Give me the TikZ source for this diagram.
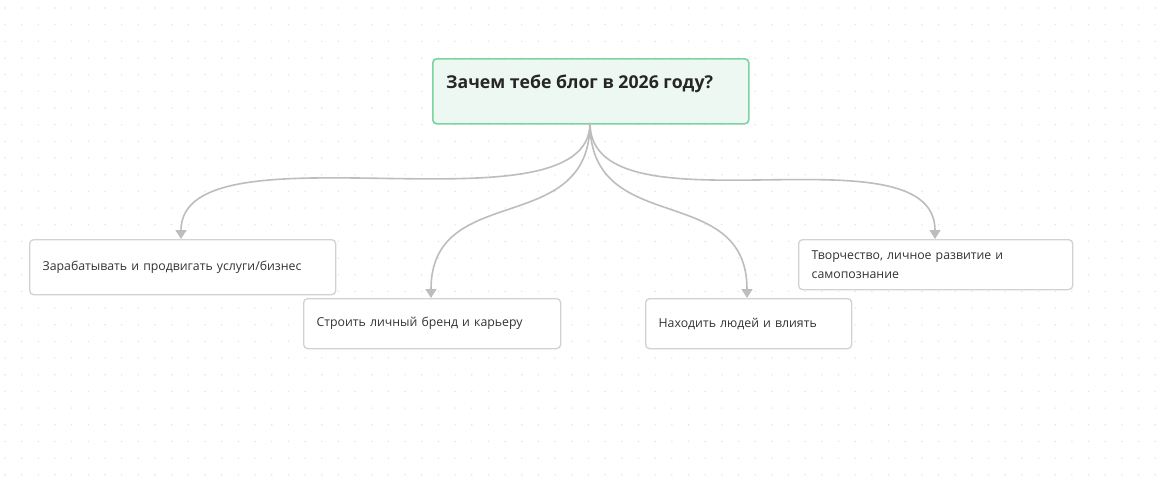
\documentclass[tikz,border=0pt]{standalone}
\usepackage{fontspec}
\setmainfont{Open Sans}
\usetikzlibrary{arrows.meta}
\definecolor{rootfill}{HTML}{EEF8F2}
\definecolor{rootline}{HTML}{7DD3A0}
\definecolor{boxline}{HTML}{D2D2D2}
\definecolor{linkgray}{HTML}{BDBDBD}
\definecolor{dotgray}{HTML}{E4E4E4}
\definecolor{txt}{HTML}{333333}
\tikzset{
  rootbox/.style={draw=rootline, fill=rootfill, line width=1.6pt, rounded corners=4pt, anchor=north west, inner sep=0pt},
  childbox/.style={draw=boxline, fill=white, line width=1.3pt, rounded corners=4pt, anchor=north west, inner xsep=13pt, inner ysep=0pt, align=left, font=\fontsize{12.3}{18.5}\selectfont, text=txt},
  link/.style={draw=linkgray, line width=1.6pt, -{Triangle[length=9pt,width=11pt]}},
}
\begin{document}
\begin{tikzpicture}[x=1pt,y=-1pt]
\useasboundingbox (0,0) rectangle (1165,479);
\fill[white] (0,0) rectangle (1165,479);
\foreach \i in {0,...,69}{
  \foreach \j in {0,...,28}{
    \fill[dotgray] ({5+16.67*\i},{8+16.67*\j}) circle (0.8pt);
  }
}
\node[rootbox, minimum width=316pt, minimum height=65pt] (root) at (432,58) {};
\node[anchor=west, inner sep=0pt, font=\fontsize{17.7}{20}\selectfont\bfseries, text=black!85] (roottext) at (446,84) {Зачем тебе блог в 2026 году?};
\coordinate (src) at (590,123);

\node[childbox, minimum width=306pt, minimum height=55pt, text width=280pt] (c1) at (29,239) {Зарабатывать и продвигать услуги/бизнес};
\node[childbox, minimum width=257pt, minimum height=50pt, text width=231pt] (c2) at (303,298) {Строить личный бренд и карьеру};
\node[childbox, minimum width=206pt, minimum height=50pt, text width=180pt] (c3) at (645,298) {Находить людей и влиять};
\node[childbox, minimum width=274pt, minimum height=50pt, text width=248pt] (c4) at (798,239) {Творчество, личное развитие и\\самопознание};

\coordinate (e1) at (181,239);
\coordinate (e2) at (431,298);
\coordinate (e3) at (747,298);
\coordinate (e4) at (935,239);

\draw[link] (src) .. controls (590,239) and (181,119) .. (e1);
\draw[link] (src) .. controls (590,239) and (431,180) .. (e2);
\draw[link] (src) .. controls (590,239) and (747,180) .. (e3);
\draw[link] (src) .. controls (590,239) and (935,123) .. (e4);
\end{tikzpicture}
\end{document}
